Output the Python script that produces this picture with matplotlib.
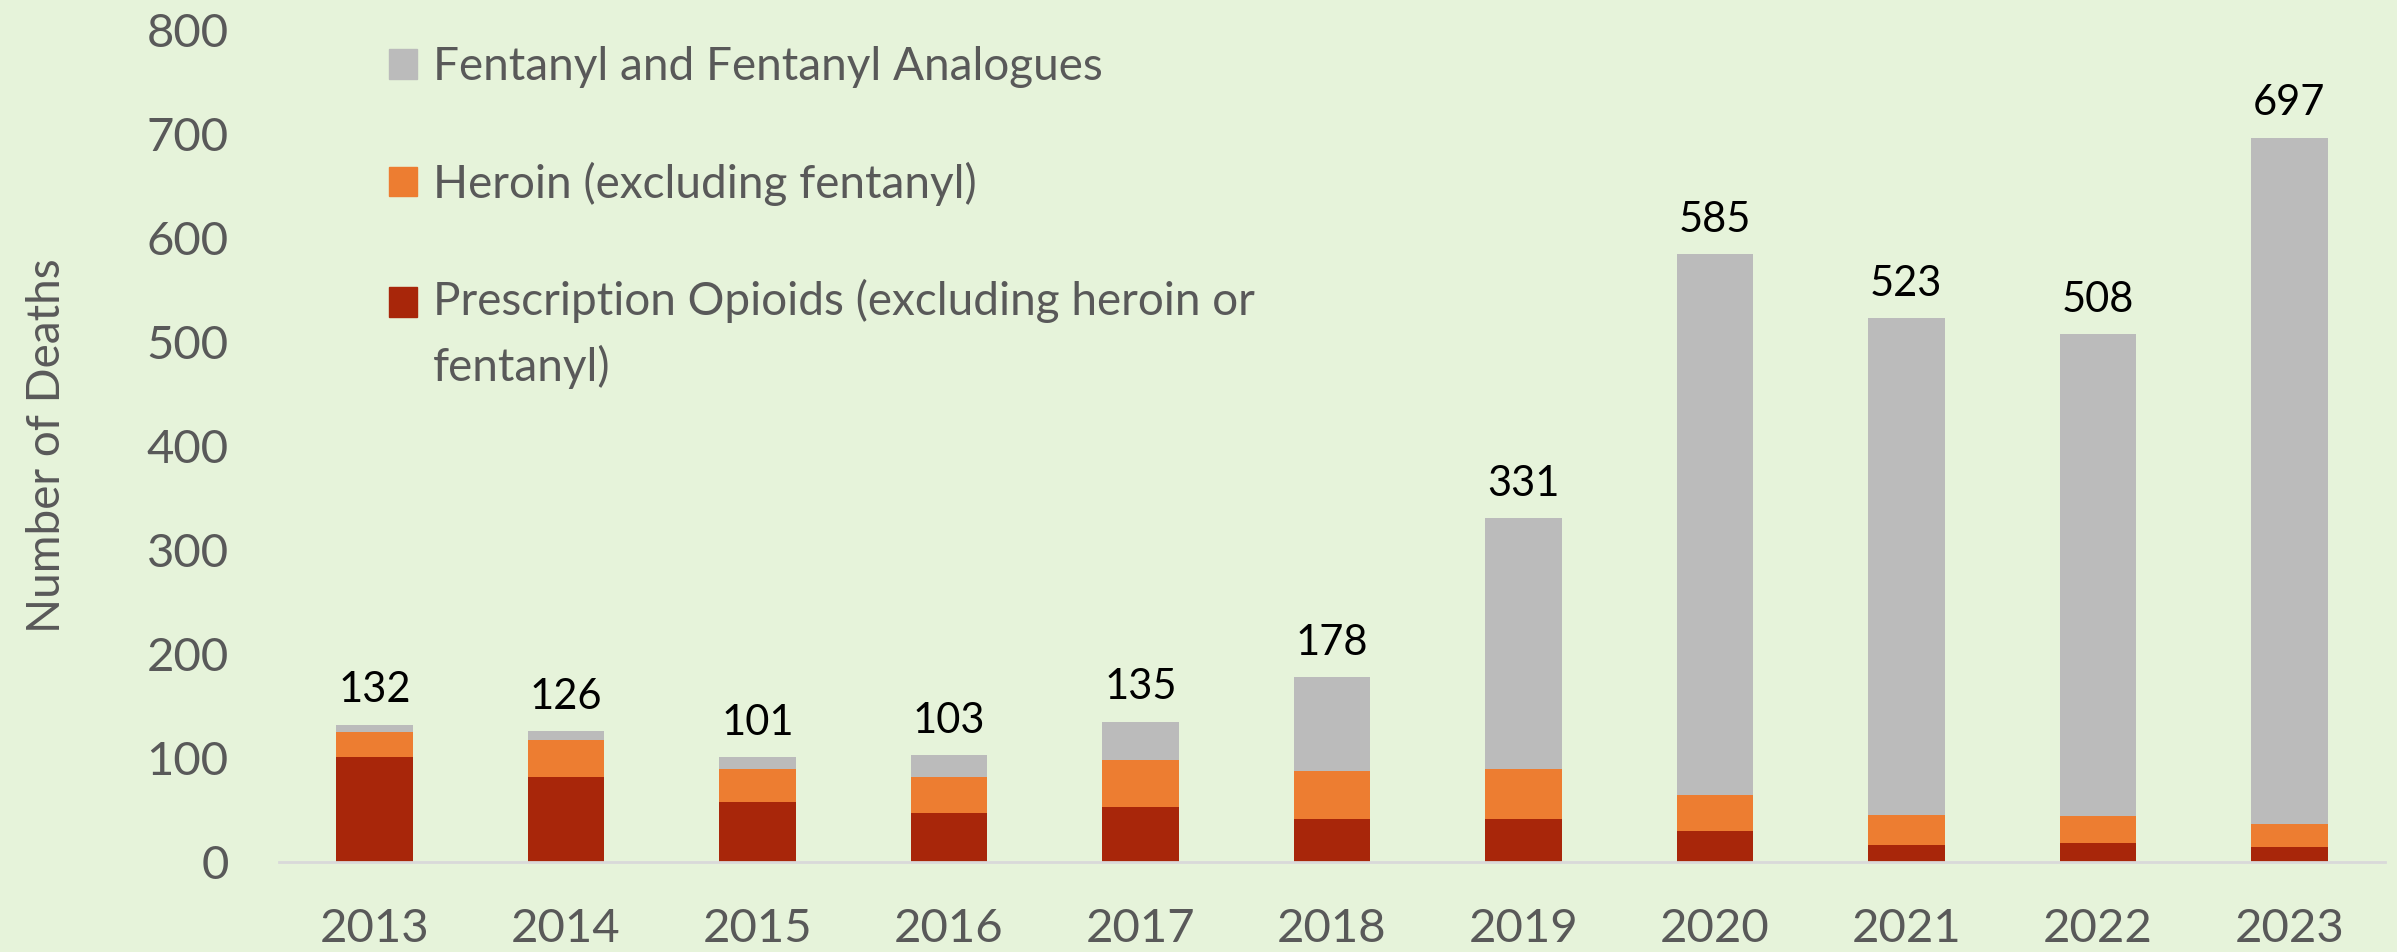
import matplotlib
matplotlib.use("Agg")
import matplotlib.pyplot as plt
from matplotlib.patches import Patch, Rectangle
from matplotlib.legend_handler import HandlerPatch

years = ["2013", "2014", "2015", "2016", "2017", "2018", "2019", "2020", "2021", "2022", "2023"]
prescription = [101, 82, 58, 47, 53, 41, 41, 30, 16, 18, 14]
heroin = [24, 35, 31, 35, 45, 46, 48, 34, 29, 26, 22]
fentanyl = [7, 9, 12, 21, 37, 91, 242, 521, 478, 464, 661]
totals = [132, 126, 101, 103, 135, 178, 331, 585, 523, 508, 697]

series_names = [
    "Fentanyl and Fentanyl Analogues",
    "Heroin (excluding fentanyl)",
    "Prescription Opioids (excluding heroin or\nfentanyl)",
]

bg = "#E6F3DA"
c_red = "#A8260A"
c_orange = "#ED7D31"
c_gray = "#BBBBBB"
txt = "#595959"

LEG_FS = 33
LEG_LS = 1.6

plt.rcParams["font.family"] = ["Lato", "DejaVu Sans"]

fig = plt.figure(figsize=(23.97, 9.52), dpi=100, facecolor=bg)
ax = fig.add_axes([0.1163, 0.0947, 0.8787, 0.8733])
ax.set_facecolor(bg)

x = list(range(len(years)))
w = 0.40
bottom2 = [a + b for a, b in zip(prescription, heroin)]

ax.bar(x, prescription, w, color=c_red, edgecolor="none")
ax.bar(x, heroin, w, bottom=prescription, color=c_orange, edgecolor="none")
ax.bar(x, fentanyl, w, bottom=bottom2, color=c_gray, edgecolor="none")

# totals above bars
for xi, t in zip(x, totals):
    ax.annotate(str(t), (xi, t), xytext=(0, 11), textcoords="offset points",
                ha="center", va="bottom", fontsize=30, color="black")

ax.set_xlim(-0.5, len(years) - 0.5)
ax.set_ylim(0, 800)
ax.set_yticks(range(0, 801, 100))
ax.set_xticks(x)
ax.set_xticklabels(years)

ax.tick_params(axis="both", length=0, labelsize=34, colors=txt)
ax.tick_params(axis="y", pad=36)
ax.tick_params(axis="x", pad=33)

for s in ["top", "right", "left"]:
    ax.spines[s].set_visible(False)
ax.spines["bottom"].set_color("#D9D9D9")
ax.spines["bottom"].set_linewidth(2)

ax.set_ylabel("Number of Deaths", fontsize=33, color=txt)
ax.yaxis.set_label_coords(-0.10, 0.5)


# square for the two-line entry sits next to the first line, like Excel does
def top_square(legend, orig_handle, xdescent, ydescent, width, height, fontsize):
    shift = 0.5 * LEG_LS * fontsize * 0.9
    return Rectangle((-xdescent, -ydescent + shift), width, height)


handles = [Patch(color=c_gray), Patch(color=c_orange), Patch(color=c_red)]
leg = fig.legend(handles, series_names, loc="upper left",
                 bbox_to_anchor=(0.145, 0.995), frameon=False,
                 fontsize=LEG_FS, labelcolor=txt, handlelength=0.62,
                 handleheight=0.62, handletextpad=0.35, labelspacing=1.6,
                 handler_map={handles[2]: HandlerPatch(patch_func=top_square)})
for t in leg.get_texts():
    t.set_linespacing(LEG_LS)

fig.savefig("out.png", dpi=100, facecolor=bg)
